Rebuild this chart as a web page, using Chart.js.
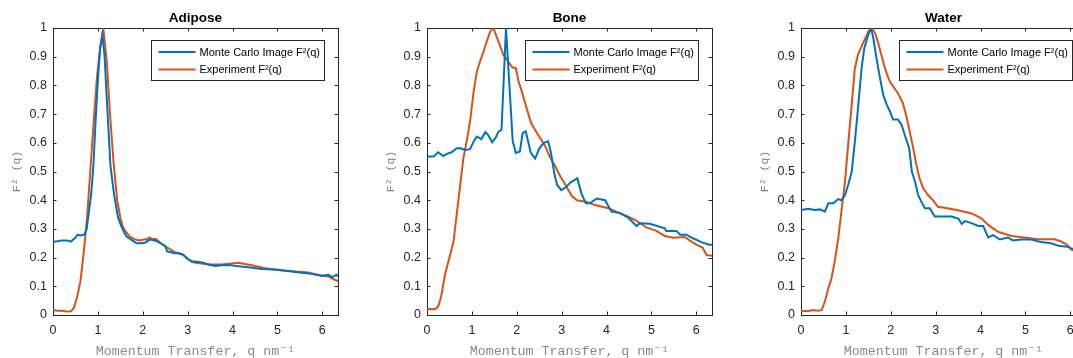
<!DOCTYPE html>
<html><head><meta charset="utf-8">
<script src="https://cdn.jsdelivr.net/npm/chart.js@4.4.0/dist/chart.umd.min.js"></script>
<style>
html,body{margin:0;padding:0;background:#fff;overflow:hidden;width:1073px;height:358px;position:relative;}
.panel{position:absolute;top:0;width:360px;height:358px;}
</style></head><body>
<div class="panel" style="left:0px"><canvas id="c0" width="360" height="358"></canvas></div>
<div class="panel" style="left:374px"><canvas id="c1" width="360" height="358"></canvas></div>
<div class="panel" style="left:748px"><canvas id="c2" width="360" height="358"></canvas></div>
<script>
// ---------- data ----------
const panelTitles = ["Adipose", "Bone", "Water"];
const seriesLabels = ["Monte Carlo Image F\u00B2(q)", "Experiment F\u00B2(q)"];
const xTickValues = [0, 1, 2, 3, 4, 5, 6];
const yTickValues = [0, 0.1, 0.2, 0.3, 0.4, 0.5, 0.6, 0.7, 0.8, 0.9, 1];
const xTitle = "Momentum Transfer, q nm\u207B\u00B9";
const yTitle = "F\u00B2 (q)";

const adiposeMcQ = [0,0.1,0.2,0.3,0.4,0.5,0.55,0.6,0.7,0.75,0.8,0.85,0.9,0.95,1.0,1.05,1.1,1.15,1.2,1.28,1.36,1.45,1.52,1.58,1.64,1.75,1.86,1.95,2.05,2.15,2.2,2.3,2.4,2.5,2.55,2.6,2.7,2.8,2.9,3.0,3.1,3.17,3.32,3.47,3.61,3.76,3.91,4.13,4.36,4.65,5.02,5.4,5.69,5.99,6.14,6.21,6.32,6.35];
const adiposeMcF = [0.255,0.257,0.26,0.26,0.256,0.27,0.28,0.277,0.28,0.30,0.36,0.42,0.52,0.68,0.82,0.93,0.975,0.9,0.75,0.52,0.42,0.34,0.31,0.29,0.273,0.262,0.25,0.25,0.252,0.262,0.262,0.258,0.25,0.24,0.22,0.22,0.215,0.215,0.21,0.195,0.185,0.186,0.183,0.176,0.171,0.173,0.174,0.17,0.166,0.16,0.158,0.15,0.145,0.137,0.14,0.132,0.14,0.135];
const adiposeExpQ = [0,0.05,0.1,0.2,0.3,0.4,0.46,0.53,0.61,0.68,0.76,0.83,0.9,0.98,1.05,1.12,1.2,1.27,1.35,1.43,1.5,1.55,1.6,1.7,1.8,1.9,2.0,2.1,2.15,2.2,2.3,2.4,2.5,2.6,2.7,2.8,2.9,3.0,3.17,3.47,3.76,4.13,4.43,4.73,5.1,5.4,5.69,5.99,6.14,6.29,6.35];
const adiposeExpF = [0.02,0.016,0.015,0.015,0.012,0.013,0.023,0.058,0.116,0.21,0.34,0.5,0.66,0.83,0.93,1.0,0.88,0.7,0.53,0.4,0.34,0.31,0.295,0.275,0.265,0.26,0.262,0.265,0.27,0.265,0.265,0.25,0.24,0.23,0.22,0.215,0.21,0.195,0.182,0.176,0.176,0.182,0.173,0.163,0.155,0.152,0.148,0.137,0.134,0.122,0.118];

const boneMcQ = [0,0.03,0.15,0.25,0.36,0.47,0.55,0.66,0.74,0.85,0.96,1.04,1.11,1.21,1.3,1.36,1.45,1.53,1.59,1.66,1.76,1.91,1.98,2.07,2.13,2.2,2.31,2.41,2.5,2.6,2.7,2.76,2.84,2.9,2.99,3.1,3.2,3.35,3.44,3.54,3.63,3.78,3.97,4.11,4.3,4.49,4.67,4.74,4.96,5.3,5.33,5.56,5.64,5.78,5.89,6.14,6.29,6.35];
const boneMcF = [0.55,0.552,0.552,0.567,0.554,0.563,0.567,0.581,0.581,0.575,0.578,0.605,0.622,0.613,0.637,0.628,0.602,0.618,0.639,0.645,1.0,0.605,0.565,0.57,0.634,0.64,0.566,0.545,0.58,0.6,0.605,0.567,0.49,0.453,0.435,0.446,0.462,0.476,0.424,0.389,0.389,0.406,0.4,0.36,0.355,0.338,0.31,0.32,0.318,0.302,0.293,0.293,0.28,0.28,0.27,0.252,0.245,0.245];
const boneExpQ = [0,0.03,0.18,0.25,0.31,0.4,0.5,0.59,0.66,0.74,0.81,0.89,0.96,1.04,1.11,1.18,1.26,1.33,1.41,1.48,1.56,1.63,1.7,1.81,1.9,1.98,2.04,2.11,2.22,2.32,2.41,2.52,2.63,2.74,2.85,2.96,3.07,3.22,3.34,3.56,3.74,4.04,4.22,4.45,4.67,4.89,5.11,5.3,5.48,5.74,5.85,6.0,6.14,6.23,6.35];
const boneExpF = [0.02,0.021,0.02,0.03,0.06,0.14,0.2,0.255,0.348,0.453,0.546,0.61,0.675,0.778,0.848,0.883,0.918,0.953,0.988,1.0,0.966,0.937,0.907,0.883,0.863,0.86,0.814,0.78,0.72,0.669,0.645,0.617,0.59,0.55,0.52,0.486,0.457,0.416,0.4,0.394,0.383,0.372,0.36,0.345,0.328,0.305,0.293,0.275,0.269,0.272,0.26,0.245,0.235,0.209,0.206];

const waterMcQ = [0,0.16,0.31,0.42,0.53,0.61,0.72,0.83,0.9,0.98,1.05,1.13,1.2,1.27,1.35,1.41,1.5,1.56,1.61,1.68,1.76,1.83,1.91,1.98,2.05,2.16,2.24,2.31,2.41,2.47,2.54,2.61,2.68,2.76,2.87,2.98,3.09,3.2,3.36,3.51,3.58,3.65,3.8,3.95,4.06,4.17,4.28,4.43,4.61,4.72,4.9,5.13,5.35,5.57,5.76,5.94,6.02,6.2];
const waterMcF = [0.366,0.37,0.366,0.368,0.36,0.389,0.389,0.404,0.4,0.418,0.453,0.499,0.604,0.72,0.86,0.93,0.977,1.0,0.966,0.896,0.826,0.768,0.733,0.71,0.681,0.681,0.663,0.628,0.582,0.5,0.465,0.418,0.395,0.372,0.372,0.343,0.343,0.343,0.343,0.335,0.317,0.327,0.32,0.31,0.31,0.27,0.278,0.263,0.27,0.26,0.263,0.263,0.254,0.25,0.24,0.238,0.232,0.225];
const waterExpQ = [0,0.16,0.27,0.38,0.46,0.53,0.61,0.68,0.75,0.83,0.9,0.98,1.05,1.13,1.2,1.27,1.35,1.42,1.5,1.57,1.65,1.72,1.8,1.87,1.96,2.05,2.16,2.27,2.35,2.42,2.5,2.57,2.64,2.72,2.83,2.94,3.05,3.2,3.5,3.8,4.02,4.17,4.39,4.69,4.98,5.28,5.65,5.8,5.94,6.02,6.2];
const waterExpF = [0.014,0.014,0.017,0.015,0.017,0.046,0.093,0.128,0.186,0.267,0.36,0.465,0.593,0.733,0.86,0.907,0.936,0.96,0.988,1.0,0.983,0.948,0.901,0.86,0.82,0.797,0.773,0.738,0.692,0.64,0.582,0.524,0.477,0.442,0.418,0.4,0.377,0.374,0.365,0.354,0.337,0.314,0.29,0.275,0.27,0.264,0.264,0.256,0.243,0.228,0.218];

const panelData = [
  [adiposeMcQ, adiposeMcF, adiposeExpQ, adiposeExpF],
  [boneMcQ, boneMcF, boneExpQ, boneExpF],
  [waterMcQ, waterMcF, waterExpQ, waterExpF]
];
const seriesColors = ["#0072BD", "#D95319"];

// ---------- plugins ----------
const matlabAxes = {
  id: 'matlabAxes',
  beforeDatasetsDraw(chart) {
    const {ctx, chartArea: a, scales: {x, y}} = chart;
    const tl = 3.5;
    ctx.save();
    ctx.strokeStyle = '#262626';
    ctx.lineWidth = 1;
    ctx.beginPath();
    x.ticks.forEach(t => {
      const px = Math.round(x.getPixelForValue(t.value)) + 0.5;
      ctx.moveTo(px, a.bottom); ctx.lineTo(px, a.bottom - tl);
      ctx.moveTo(px, a.top); ctx.lineTo(px, a.top + tl);
    });
    y.ticks.forEach(t => {
      const py = Math.round(y.getPixelForValue(t.value)) + 0.5;
      ctx.moveTo(a.left, py); ctx.lineTo(a.left + tl, py);
      ctx.moveTo(a.right, py); ctx.lineTo(a.right - tl, py);
    });
    ctx.stroke();
    ctx.strokeRect(Math.round(a.left) + 0.5, Math.round(a.top) + 0.5,
                   Math.round(a.right - a.left), Math.round(a.bottom - a.top));
    ctx.restore();
  }
};
const insideLegend = {
  id: 'insideLegend',
  afterDraw(chart) {
    const {ctx, chartArea: a} = chart;
    const ds = chart.data.datasets;
    ctx.save();
    ctx.font = '11px "Liberation Sans", Arial, sans-serif';
    let tw = 0;
    ds.forEach(d => { tw = Math.max(tw, ctx.measureText(d.label).width); });
    const w = Math.round(48 + tw + 5), h = 40;
    const bx = Math.round(a.right - 14 - w) + 0.5, by = Math.round(a.top + 12) + 0.5;
    ctx.fillStyle = '#fff';
    ctx.fillRect(bx, by, w, h);
    ctx.strokeStyle = '#262626'; ctx.lineWidth = 1;
    ctx.strokeRect(bx, by, w, h);
    ds.forEach((d, i) => {
      const ry = by + 11.5 + i * 17.5;
      ctx.strokeStyle = d.borderColor; ctx.lineWidth = 2;
      ctx.beginPath(); ctx.moveTo(bx + 7, ry); ctx.lineTo(bx + 44, ry); ctx.stroke();
      ctx.fillStyle = '#000'; ctx.textBaseline = 'middle'; ctx.textAlign = 'left';
      ctx.fillText(d.label, bx + 48, ry + 0.5);
    });
    ctx.restore();
  }
};

// ---------- charts ----------
panelData.forEach((pd, i) => {
  const [mq, mf, eq, ef] = pd;
  new Chart(document.getElementById('c' + i), {
    type: 'line',
    data: {
      datasets: [
        {label: seriesLabels[0], data: mq.map((q, k) => ({x: q, y: mf[k]})), borderColor: seriesColors[0], borderWidth: 2, pointRadius: 0, tension: 0, fill: false},
        {label: seriesLabels[1], data: eq.map((q, k) => ({x: q, y: ef[k]})), borderColor: seriesColors[1], borderWidth: 2, pointRadius: 0, tension: 0, fill: false}
      ]
    },
    options: {
      responsive: false, animation: false, devicePixelRatio: 1,
      layout: {padding: {left: 0, right: 22, top: 0, bottom: 0}},
      plugins: {
        legend: {display: false},
        tooltip: {enabled: false},
        title: {display: true, text: panelTitles[i], fullSize: false, color: '#000',
                font: {family: '"Liberation Sans", Arial, sans-serif', size: 13.5, weight: 'bold', lineHeight: 1.2},
                padding: {top: 10, bottom: 1.8}}
      },
      scales: {
        x: {
          type: 'linear', min: 0, max: 6.35,
          afterBuildTicks: s => { s.ticks = xTickValues.map(v => ({value: v})); },
          afterFit: s => { s.height = 43; },
          grid: {display: false, drawTicks: false},
          border: {display: false},
          ticks: {padding: 8, color: '#262626', font: {family: '"Liberation Sans", Arial, sans-serif', size: 12.5}, callback: v => String(v), maxRotation: 0},
          title: {display: true, text: xTitle, color: '#8a8a8a', font: {family: '"Liberation Mono", "DejaVu Sans Mono", monospace', size: 13.3, lineHeight: 1}, padding: {top: 0, bottom: 0}}
        },
        y: {
          type: 'linear', min: 0, max: 1,
          afterBuildTicks: s => { s.ticks = yTickValues.map(v => ({value: v})); },
          afterFit: s => { s.width = 53; },
          grid: {display: false, drawTicks: false},
          border: {display: false},
          ticks: {padding: 6, color: '#262626', font: {family: '"Liberation Sans", Arial, sans-serif', size: 12.5}, callback: v => String(v)},
          title: {display: true, text: yTitle, color: '#808080', font: {family: '"Liberation Mono", "DejaVu Sans Mono", monospace', size: 11.5, lineHeight: 1.2}, padding: {top: 10.5, bottom: 0}}
        }
      }
    },
    plugins: [matlabAxes, insideLegend]
  });
});
</script>
</body></html>
